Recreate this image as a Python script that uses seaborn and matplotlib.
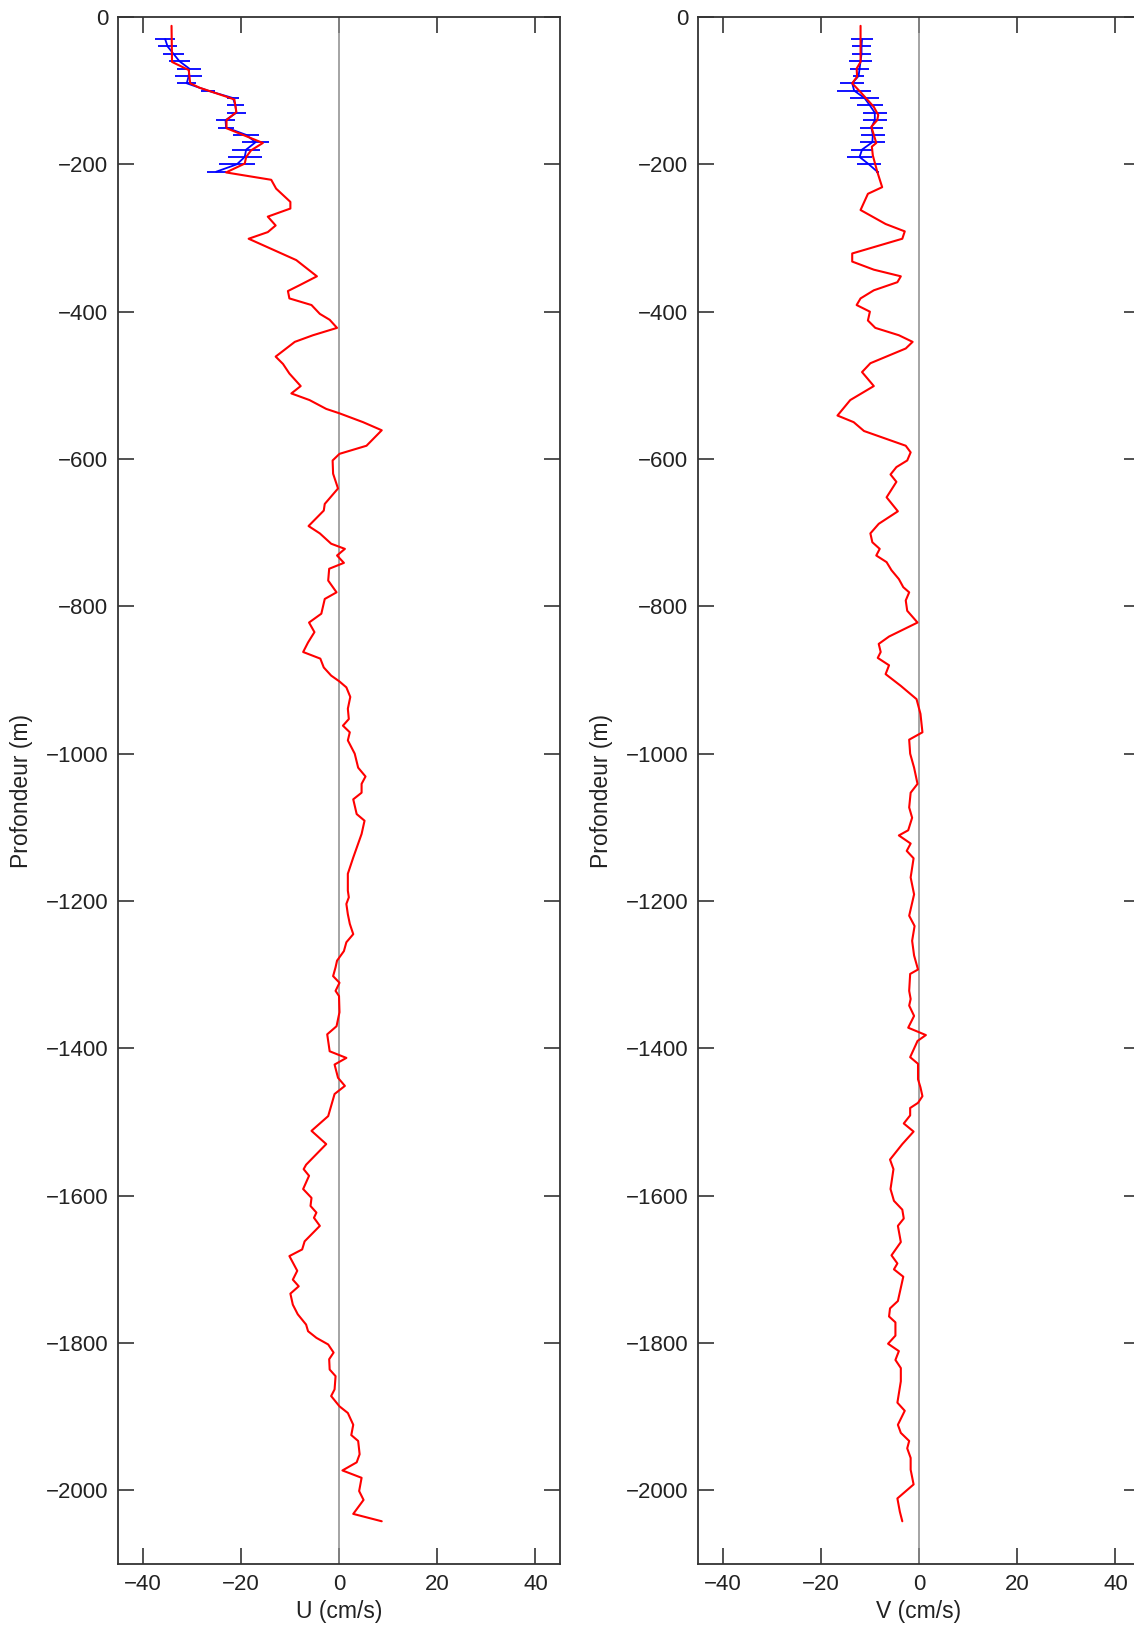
import matplotlib
matplotlib.use('Agg')
import matplotlib.pyplot as plt
import seaborn as sns
import numpy as np
import pandas as pd

# profil U (rouge) : profondeur (m), vitesse (cm/s)
prof_u = [-12, -61, -72, -90, -96, -108, -112, -129, -140, -151, -171, -181, -190, -199, -211,
          -221, -233, -251, -260, -271, -283, -292, -301, -330, -352, -364, -372, -382, -391, -403,
          -411, -422, -432, -441, -461, -471, -484, -501, -511, -520, -532, -538, -550, -561, -582,
          -593, -602, -620, -640, -661, -670, -691, -701, -715, -722, -731, -741, -749, -765, -781,
          -790, -810, -822, -835, -849, -862, -871, -883, -894, -902, -910, -923, -939, -953, -962,
          -971, -982, -1000, -1019, -1031, -1041, -1053, -1062, -1082, -1091, -1109, -1141, -1163,
          -1186, -1195, -1204, -1218, -1231, -1245, -1256, -1268, -1281, -1290, -1302, -1311, -1322,
          -1329, -1351, -1370, -1381, -1404, -1413, -1422, -1440, -1451, -1462, -1492, -1512, -1530,
          -1558, -1564, -1573, -1591, -1603, -1614, -1623, -1630, -1641, -1662, -1673, -1682, -1702,
          -1714, -1723, -1733, -1748, -1761, -1775, -1784, -1793, -1802, -1813, -1822, -1836, -1845,
          -1863, -1872, -1886, -1895, -1911, -1925, -1933, -1951, -1962, -1973, -1983, -2001, -2013,
          -2032, -2042]
vit_u = [-34.1, -34.0, -30.6, -30.3, -28.4, -23.0, -21.3, -20.9, -22.9, -22.9, -15.5, -17.9, -18.9, -19.2, -23.0,
         -13.8, -12.8, -9.9, -9.9, -14.5, -12.9, -14.5, -18.4, -8.7, -4.5, -8.0, -10.4, -10.1, -5.6, -3.9,
         -1.9, -0.4, -5.3, -9.0, -12.9, -11.4, -10.1, -7.8, -9.7, -6.0, -2.6, 0.1, 4.9, 8.7, 5.6,
         0.1, -1.3, -1.2, -0.2, -2.9, -3.1, -6.2, -3.9, -1.6, 1.2, -0.4, 1.0, -2.0, -2.2, -0.5,
         -2.9, -3.6, -6.1, -5.0, -6.3, -7.3, -3.8, -3.1, -1.6, 0.1, 1.5, 2.3, 1.8, 2.0, 0.8,
         2.2, 1.8, 3.2, 3.9, 5.4, 4.6, 4.6, 2.9, 3.6, 5.2, 4.6, 2.9, 1.8,
         1.8, 2.0, 1.5, 1.8, 2.2, 2.9, 1.5, 1.0, -0.4, -0.7, -1.2, 0.1, -0.7,
         0.0, 0.1, -0.5, -2.4, -1.9, 1.5, -0.9, -0.2, 1.2, -0.9, -2.2, -5.6, -2.6,
         -6.7, -7.2, -6.1, -7.3, -5.6, -5.8, -4.6, -5.1, -3.9, -7.0, -7.5, -10.1, -8.5,
         -9.4, -8.2, -9.9, -9.4, -8.4, -6.7, -6.3, -4.6, -2.2, -1.1, -2.0, -1.9, -0.7,
         -0.9, -1.6, 0.1, 1.8, 2.9, 2.5, 3.9, 4.2, 3.6, 0.7, 4.6, 4.1, 5.0,
         2.9, 8.7]

# profil V (rouge)
prof_v = [-12, -61, -70, -81, -90, -102, -122, -133, -140, -149, -160, -171, -176, -188, -210,
          -231, -240, -262, -281, -291, -301, -321, -332, -343, -352, -360, -371, -382, -391, -400,
          -412, -422, -432, -441, -450, -470, -482, -501, -520, -541, -550, -562, -570, -582, -591,
          -602, -611, -621, -631, -652, -671, -688, -701, -713, -722, -731, -740, -751, -763, -774,
          -781, -792, -806, -822, -841, -851, -862, -870, -880, -892, -908, -926, -946, -971, -981,
          -1000, -1019, -1041, -1053, -1073, -1087, -1104, -1111, -1122, -1132, -1142, -1168, -1191,
          -1220, -1234, -1254, -1274, -1293, -1299, -1322, -1333, -1342, -1356, -1372, -1382, -1390,
          -1412, -1421, -1442, -1453, -1465, -1474, -1481, -1491, -1502, -1513, -1530, -1551, -1564,
          -1591, -1607, -1619, -1631, -1641, -1663, -1681, -1692, -1700, -1710, -1743, -1753, -1764,
          -1772, -1790, -1801, -1811, -1823, -1834, -1852, -1881, -1892, -1911, -1922, -1933, -1943,
          -1956, -1972, -1992, -2011, -2029, -2042]
vit_v = [-11.9, -11.9, -12.7, -12.6, -13.6, -11.9, -9.2, -8.3, -8.5, -9.7, -9.2, -8.7, -9.6, -9.4, -8.5,
         -7.5, -10.4, -11.9, -6.8, -2.9, -3.4, -13.6, -13.6, -9.2, -3.7, -4.4, -9.2, -11.9, -12.7, -10.0,
         -10.4, -8.9, -4.1, -1.3, -2.7, -9.9, -11.6, -9.2, -14.0, -16.6, -13.3, -11.2, -7.8, -2.7, -1.7,
         -2.4, -4.6, -5.8, -4.6, -6.6, -4.3, -8.2, -9.9, -9.5, -8.0, -8.7, -6.6, -5.6, -4.1, -3.2,
         -2.0, -2.7, -2.4, -0.3, -6.1, -8.2, -7.8, -8.4, -6.1, -6.8, -3.7, -0.5, 0.3, 0.7, -2.0,
         -1.8, -1.0, -0.3, -1.7, -2.0, -1.4, -2.2, -4.1, -1.7, -2.5, -1.1, -1.7, -1.0,
         -2.0, -0.9, -1.4, -1.0, -0.2, -1.8, -2.0, -1.7, -2.0, -1.0, -2.2, 1.4, -0.3,
         -1.8, -0.2, -0.2, 0.3, 0.7, -0.2, -1.8, -1.8, -3.1, -1.1, -3.4, -5.9, -5.2,
         -5.8, -5.1, -3.4, -3.1, -4.3, -3.7, -5.6, -4.4, -5.1, -3.2, -4.3, -5.9, -6.1,
         -4.8, -4.8, -6.3, -4.1, -4.8, -3.7, -3.7, -4.4, -2.9, -4.3, -3.7, -2.0, -2.4,
         -1.7, -1.7, -1.1, -4.4, -3.9, -3.4]

# profils bleus avec barres d'erreur (surface)
prof_b = [-30, -40, -50, -60, -70, -80, -90, -100, -110, -120, -130, -140, -150, -160, -170,
          -180, -190, -200, -210]
u_b = [-35.4, -34.9, -33.7, -32.5, -30.5, -30.6, -31.0, -26.7, -21.6, -21.1, -20.9, -23.1, -23.0,
       -18.9, -17.0, -18.9, -19.2, -20.8, -25.0]
err_u = [2.1, 1.9, 2.2, 2.1, 2.4, 2.7, 1.9, 1.5, 1.3, 1.7, 1.9, 2.0, 1.7, 2.6, 2.7, 2.8, 3.5, 3.7, 1.9]
v_b = [-11.6, -11.7, -11.7, -11.9, -12.1, -12.3, -13.6, -13.2, -11.1, -10.0, -9.0, -9.0, -9.7,
       -9.4, -9.5, -11.6, -12.1, -10.2, -8.5]
err_v = [2.2, 2.0, 1.9, 2.3, 2.0, 1.1, 2.4, 3.5, 3.0, 2.6, 2.4, 2.4, 2.3, 2.5, 2.6, 2.2, 2.6, 2.4, 0.3]

yticks = [0, -200, -400, -600, -800, -1000, -1200, -1400, -1600, -1800, -2000]
xticks = [-40, -20, 0, 20, 40]

sns.set_style('ticks')
plt.rcParams['font.family'] = ['Liberation Sans', 'DejaVu Sans']

fig = plt.figure(figsize=(11.34, 16.32), dpi=100)
W, H = 1134, 1632
ax1 = fig.add_axes([118 / W, (H - 1564) / H, 442 / W, 1547 / H])
ax2 = fig.add_axes([698 / W, (H - 1564) / H, 442 / W, 1547 / H])

panneaux = [
    (ax1, prof_u, vit_u, u_b, err_u, 'U (cm/s)'),
    (ax2, prof_v, vit_v, v_b, err_v, 'V (cm/s)'),
]

for ax, prof, vit, vb, eb, xlab in panneaux:
    ax.axvline(0, color='#8c8c8c', linewidth=1.1, zorder=1)
    ax.errorbar(vb, prof_b, xerr=eb, color='blue', linewidth=1.3, elinewidth=1.3,
                capsize=0, zorder=2)
    df = pd.DataFrame({'vit': vit, 'prof': prof})
    sns.lineplot(data=df, x='vit', y='prof', orient='y', sort=False, estimator=None,
                 color='red', linewidth=1.5, ax=ax, zorder=3)
    ax.set_xlim(-45, 45)
    ax.set_ylim(-2100, 0)
    ax.set_xticks(xticks)
    ax.set_yticks(yticks)
    ax.set_xticklabels([str(t).replace('-', '\u2212') for t in xticks])
    ax.set_yticklabels([str(t).replace('-', '\u2212') for t in yticks])
    ax.tick_params(direction='in', length=11.5, width=1.2, top=True, right=True,
                   labelsize=16, pad=7, colors='#333333', labelcolor='#222222')
    for s in ax.spines.values():
        s.set_color('#333333')
        s.set_linewidth(1.3)
    ax.set_xlabel(xlab, fontsize=16.5, color='#222222')
    ax.set_ylabel('Profondeur (m)', fontsize=16.5, color='#222222')
    ax.yaxis.set_label_coords(-0.192, 0.5)
    ax.xaxis.set_label_coords(0.5, -0.0235)

fig.savefig('out.png', dpi=100)
